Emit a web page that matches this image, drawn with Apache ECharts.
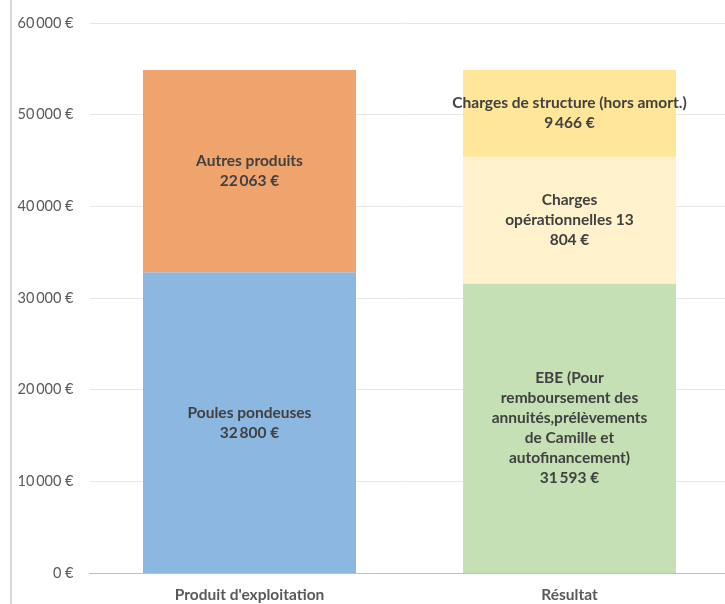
<!DOCTYPE html>
<html>
<head>
<meta charset="utf-8">
<script src="https://cdn.jsdelivr.net/npm/echarts@6/dist/echarts.min.js"></script>
<style>html,body{margin:0;padding:0;background:#fff}#c{width:725px;height:604px}</style>
</head>
<body>
<div id="c"></div>
<script>
const categories = ["Produit d'exploitation", "Résultat"];
const seriesNames = ["Poules pondeuses", "Autres produits", "EBE", "Charges opérationnelles", "Charges de structure (hors amort.)"];
const poules = [32800, null];
const autres = [22063, null];
const ebe = [null, 31593];
const chargesOp = [null, 13804];
const chargesStruct = [null, 9466];
const labelTexts = [
  "Poules pondeuses\n{v}",
  "Autres produits\n{v}",
  "EBE (Pour\nremboursement des\nannuités,prélèvements\nde Camille et\nautofinancement)\n{v}",
  "Charges\nopérationnelles 13\n804 €",
  "Charges de structure (hors amort.)\n{v}"
];
const colors = ["#8cb7e0", "#f0a46d", "#c5e0b4", "#fff2cc", "#ffe699"];
const yTicks = [0, 10000, 20000, 30000, 40000, 50000, 60000];

function fmt(v) {
  return String(v).replace(/\B(?=(\d{3})+(?!\d))/g, "\u2009") + "\u00a0€";
}
const allData = [poules, autres, ebe, chargesOp, chargesStruct];
const chart = echarts.init(document.getElementById('c'));
chart.setOption({
  animation: false,
  textStyle: { fontFamily: 'Lato' },
  grid: { left: 89.5, top: 23, bottom: 31, width: 640, containLabel: false, outerBoundsMode: 'none' },
  graphic: [{ type: 'rect', shape: { x: 10, y: 0, width: 2, height: 604 }, style: { fill: '#d9d9d9' } }],
  xAxis: {
    type: 'category', data: categories,
    axisLine: { lineStyle: { color: '#bfbfbf' } },
    axisTick: { show: false },
    axisLabel: { color: '#595959', fontWeight: 'bold', fontSize: 15.5, margin: 14 }
  },
  yAxis: {
    type: 'value', min: yTicks[0], max: yTicks[yTicks.length - 1], interval: 10000,
    axisLine: { show: false }, axisTick: { show: false },
    splitLine: { lineStyle: { color: '#e6e6e6' } },
    axisLabel: { color: '#595959', fontSize: 14.5, margin: 16, formatter: v => fmt(v) }
  },
  series: seriesNames.map((n, i) => ({
    name: n, type: 'bar', stack: 'total', barWidth: 213,
    data: allData[i],
    itemStyle: { color: colors[i] },
    label: {
      show: true, position: 'inside', color: '#404040', fontWeight: 'bold', fontSize: 15.5, lineHeight: 20,
      formatter: p => labelTexts[i].replace('{v}', fmt(p.value))
    }
  }))
});
</script>
</body>
</html>
